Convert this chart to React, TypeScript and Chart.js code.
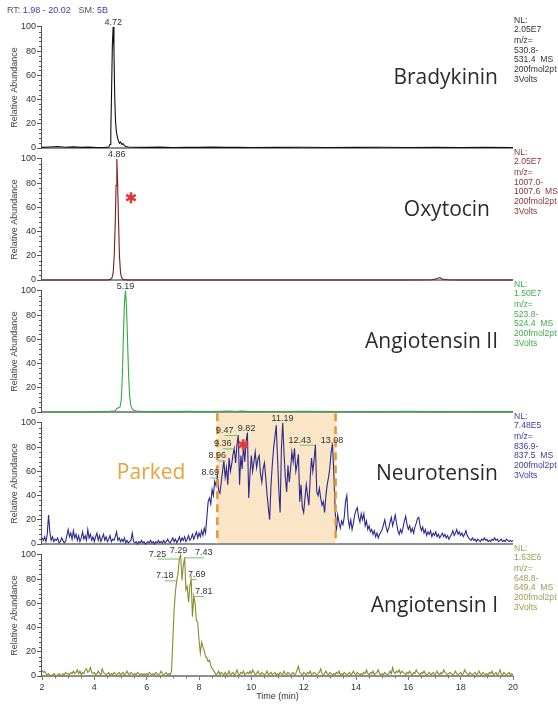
import React, { useEffect, useRef } from "react";
import { Chart, registerables } from "chart.js";

Chart.register(...registerables);

// ---------------- DATA ----------------
const xTickValues = [2, 4, 6, 8, 10, 12, 14, 16, 18, 20];
const yTickValues = [0, 20, 40, 60, 80, 100];
const rtRangeText = "1.98 - 20.02";
const smoothingText = "5B";

const compoundNames = ["Bradykinin", "Oxytocin", "Angiotensin II", "Neurotensin", "Angiotensin I"];
const nlValues = ["2.05E7", "2.05E7", "1.50E7", "7.48E5", "1.63E6"];
const mzLow = ["530.8", "1007.0", "523.8", "836.9", "648.8"];
const mzHigh = ["531.4", "1007.6", "524.4", "837.5", "649.4"];
const sampleText = "200fmol2pt";
const voltText = "3Volts";

const bradykininTimes = [2.0, 2.3, 2.6, 2.9, 3.2, 3.5, 3.8, 4.1, 4.4, 4.55, 4.6, 4.63, 4.66, 4.69, 4.72, 4.75, 4.78, 4.81, 4.84, 4.88, 4.92, 4.96, 5.0, 5.05, 5.1, 5.15, 5.2, 5.3, 5.5, 6.0, 6.5, 7.0, 7.5, 8.0, 8.5, 9.0, 9.5, 10.0, 11.0, 12.0, 13.0, 14.0, 15.0, 16.0, 17.0, 18.0, 19.0, 20.0];
const bradykininValues = [0.5, 0.8, 1.2, 0.6, 0.9, 0.5, 0.7, 0.4, 0.5, 0.8, 3, 14, 48, 86, 100, 80, 42, 22, 14, 9, 6, 4, 5, 3, 3.5, 2, 1.2, 0.8, 0.6, 0.5, 0.7, 0.4, 0.6, 0.5, 0.7, 0.5, 0.6, 0.4, 0.5, 0.6, 0.4, 0.5, 0.6, 0.4, 0.5, 0.4, 0.5, 0.4];

const oxytocinTimes = [2.0, 3.0, 4.0, 4.5, 4.62, 4.68, 4.72, 4.76, 4.8, 4.83, 4.86, 4.89, 4.92, 4.96, 5.0, 5.04, 5.08, 5.14, 5.3, 6.0, 8.0, 10.0, 12.0, 14.0, 16.0, 16.9, 17.1, 17.2, 17.3, 17.5, 18.0, 20.0];
const oxytocinValues = [0, 0, 0, 0, 0.5, 2, 6, 20, 48, 78, 100, 80, 52, 20, 6, 2, 0.8, 0.3, 0, 0, 0, 0, 0, 0, 0, 0.2, 1.2, 2, 0.8, 0.2, 0, 0];

const angiotensin2Times = [2.0, 3.0, 4.0, 4.6, 4.8, 4.86, 4.92, 4.98, 5.03, 5.07, 5.11, 5.15, 5.19, 5.23, 5.27, 5.31, 5.35, 5.4, 5.45, 5.5, 5.6, 5.8, 6.5, 7.5, 8.5, 9.2, 9.4, 9.6, 10.0, 11.0, 12.0, 13.0, 14.0, 15.0, 16.0, 17.0, 18.0, 19.0, 20.0];
const angiotensin2Values = [0, 0, 0.2, 0.5, 1, 3, 3.5, 4, 10, 30, 62, 90, 100, 86, 58, 30, 13, 5, 2.5, 1.5, 0.8, 0.5, 0.3, 0.5, 0.4, 0.8, 0.4, 0.7, 0.3, 0.4, 0.5, 0.3, 0.4, 0.3, 0.5, 0.3, 0.4, 0.3, 0.3];

// sampled every 0.05 min from 2.00 to 20.00
const neurotensinStart = 2;
const neurotensinStep = 0.05;
const neurotensinValues = [
  5, 3, 6, 2, 8, 24, 10, 3, 6, 2, 4, 3, 5, 1, 2, 5, 3, 1, 2, 7,
  12, 6, 9, 4, 11, 5, 8, 3, 7, 2, 5, 10, 4, 7, 3, 12, 5, 8, 3, 6,
  2, 6, 9, 3, 7, 2, 5, 8, 3, 6, 2, 4, 7, 2, 4, 3, 6, 10, 3, 5,
  2, 4, 2, 5, 1, 3, 1, 2, 3, 9, 2, 1, 2, 0, 2, 1, 3, 1, 2, 0,
  1, 2, 1, 3, 1, 2, 0, 2, 1, 3, 1, 2, 1, 3, 1, 2, 4, 2, 1, 3,
  5, 2, 4, 1, 3, 6, 2, 5, 3, 6, 2, 4, 7, 3, 5, 8, 4, 7, 10, 5,
  9, 6, 11, 7, 13, 9, 22, 35, 38, 33, 45, 40, 52, 48, 57, 44, 42, 51, 60, 69,
  55, 63, 49, 71, 60, 66, 74, 79, 67, 82, 90, 49, 73, 62, 82, 68, 85, 92, 38, 58,
  73, 60, 68, 76, 63, 70, 73, 58, 51, 62, 67, 55, 41, 30, 20, 48, 65, 79, 88, 98,
  72, 45, 26, 79, 100, 75, 55, 43, 65, 51, 62, 76, 68, 79, 60, 66, 74, 35, 49, 30,
  26, 38, 49, 40, 32, 55, 71, 60, 70, 82, 43, 40, 46, 38, 32, 35, 26, 40, 49, 55,
  63, 76, 83, 60, 30, 10, 24, 18, 13, 19, 16, 22, 35, 40, 21, 14, 20, 12, 17, 24,
  28, 30, 22, 18, 25, 20, 25, 15, 19, 12, 15, 10, 12, 8, 11, 6, 9, 5, 8, 10,
  12, 16, 20, 14, 10, 13, 18, 22, 15, 19, 24, 17, 11, 8, 12, 9, 14, 19, 23, 16,
  12, 15, 10, 13, 9, 14, 17, 21, 22, 15, 11, 14, 9, 12, 7, 10, 8, 11, 6, 9,
  7, 10, 6, 8, 5, 7, 9, 6, 8, 5, 7, 4, 6, 8, 11, 7, 9, 12, 8, 10,
  7, 9, 6, 8, 11, 7, 5, 4, 3, 5, 3, 4, 2, 4, 3, 2, 4, 3, 5, 3,
  4, 2, 3, 2, 4, 3, 5, 3, 4, 2, 3, 4, 2, 3, 2, 4, 3, 2, 3, 2,
  3,
];

// sampled every 0.05 min from 2.00 to 20.00
const angiotensin1Start = 2;
const angiotensin1Step = 0.05;
const angiotensin1Values = [
  5, 3, 4, 2, 1, 2, 1, 0, 1, 2, 1, 0, 1, 2, 1, 0, 2, 1, 3, 2,
  2, 1, 3, 2, 4, 2, 3, 5, 2, 4, 1, 3, 2, 5, 6, 3, 4, 7, 3, 2,
  3, 1, 2, 4, 2, 1, 6, 3, 2, 1, 2, 3, 1, 2, 1, 3, 2, 1, 2, 3,
  1, 2, 3, 1, 2, 4, 2, 1, 3, 2, 1, 2, 1, 3, 2, 1, 2, 1, 2, 1,
  2, 1, 3, 2, 1, 2, 1, 3, 2, 1, 2, 4, 2, 1, 2, 3, 1, 2, 1, 4,
  30, 55, 70, 79, 85, 97, 100, 79, 91, 98, 71, 74, 61, 74, 80, 49, 66, 60, 46, 44,
  30, 19, 28, 24, 21, 16, 15, 12, 13, 9, 6, 5, 3, 1, 2, 4, 1, 3, 2, 1,
  3, 1, 2, 4, 1, 2, 3, 1, 2, 5, 2, 1, 3, 2, 4, 1, 2, 3, 2, 4,
  2, 5, 3, 1, 2, 4, 2, 1, 3, 2, 1, 2, 4, 1, 2, 3, 1, 2, 3, 1,
  2, 1, 3, 2, 1, 4, 2, 1, 3, 2, 1, 2, 3, 1, 2, 5, 8, 3, 2, 1,
  3, 2, 1, 3, 2, 4, 1, 2, 3, 2, 1, 2, 3, 6, 2, 1, 2, 4, 2, 1,
  3, 2, 1, 2, 1, 3, 2, 4, 1, 2, 1, 3, 2, 1, 2, 3, 1, 2, 4, 2,
  1, 3, 2, 1, 2, 1, 3, 2, 5, 2, 1, 3, 2, 4, 1, 2, 3, 5, 2, 1,
  2, 1, 3, 2, 1, 2, 4, 2, 7, 3, 2, 4, 3, 5, 2, 4, 3, 2, 1, 3,
  2, 4, 2, 1, 3, 2, 5, 3, 2, 1, 3, 2, 4, 2, 1, 2, 3, 1, 2, 3,
  1, 2, 4, 2, 1, 3, 2, 5, 3, 2, 1, 2, 3, 2, 1, 2, 4, 2, 1, 2,
  3, 1, 2, 5, 3, 2, 1, 3, 2, 1, 2, 3, 1, 2, 4, 2, 1, 3, 2, 1,
  2, 1, 3, 2, 4, 1, 2, 3, 1, 2, 5, 2, 1, 3, 2, 1, 2, 3, 1, 2,
  1,
];

// peak labels (retention time, relative abundance)
const bradykininLabelTimes = [4.72];
const bradykininLabelValues = [100];
const oxytocinLabelTimes = [4.86];
const oxytocinLabelValues = [100];
const angiotensin2LabelTimes = [5.19];
const angiotensin2LabelValues = [100];
const neurotensinLabelTimes = [8.69, 8.96, 9.36, 9.47, 9.82, 11.19, 12.43, 13.08];
const neurotensinLabelValues = [55, 69, 79, 90, 92, 100, 82, 82];
const angiotensin1LabelTimes = [7.18, 7.25, 7.29, 7.43, 7.69, 7.81];
const angiotensin1LabelValues = [79, 97, 100, 98, 80, 66];

// parked window (min)
const parkedStart = 8.7;
const parkedEnd = 13.22;

// ---------------- LAYOUT / STYLE ----------------
const FONT = '"Liberation Sans", Arial, Helvetica, sans-serif';
const NAME_FONT = '"Open Sans", "Noto Sans", sans-serif';
const W = 558;
const PANEL_STEP = 132;
const PAD_TOP = 16;
const Y_MAX = 109;

type Mode = "top" | "left" | "right";
interface LabelPlace { mode: Mode; dx: number; }

const pairs = (ts: number[], vs: number[]) => ts.map((t, i) => ({ x: t, y: vs[i] }));
const sampled = (start: number, step: number, vs: number[]) =>
  vs.map((v, i) => ({ x: Math.round((start + i * step) * 1000) / 1000, y: v }));

interface PanelDef {
  points: { x: number; y: number }[];
  lineColor: string;
  infoColor: string;
  nameRight: number;
  labelTimes: number[];
  labelValues: number[];
  labelPlaces: LabelPlace[];
  asterisk?: { t: number; v: number };
  parked?: boolean;
}

const panels: PanelDef[] = [
  {
    points: pairs(bradykininTimes, bradykininValues),
    lineColor: "#111111",
    infoColor: "#333333",
    nameRight: 498,
    labelTimes: bradykininLabelTimes,
    labelValues: bradykininLabelValues,
    labelPlaces: [{ mode: "top", dx: 0 }],
  },
  {
    points: pairs(oxytocinTimes, oxytocinValues),
    lineColor: "#7a1c1c",
    infoColor: "#8b3535",
    nameRight: 490,
    labelTimes: oxytocinLabelTimes,
    labelValues: oxytocinLabelValues,
    labelPlaces: [{ mode: "top", dx: 0 }],
    asterisk: { t: 5.4, v: 68 },
  },
  {
    points: pairs(angiotensin2Times, angiotensin2Values),
    lineColor: "#35a845",
    infoColor: "#3fae4f",
    nameRight: 498,
    labelTimes: angiotensin2LabelTimes,
    labelValues: angiotensin2LabelValues,
    labelPlaces: [{ mode: "top", dx: 0 }],
  },
  {
    points: sampled(neurotensinStart, neurotensinStep, neurotensinValues),
    lineColor: "#2a2a8e",
    infoColor: "#3c3ca0",
    nameRight: 498,
    labelTimes: neurotensinLabelTimes,
    labelValues: neurotensinLabelValues,
    labelPlaces: [
      { mode: "left", dx: 2 },
      { mode: "left", dx: 2 },
      { mode: "left", dx: -3 },
      { mode: "left", dx: -4 },
      { mode: "top", dx: 0 },
      { mode: "top", dx: 0 },
      { mode: "left", dx: -4 },
      { mode: "top", dx: 0 },
    ],
    asterisk: { t: 9.69, v: 82 },
    parked: true,
  },
  {
    points: sampled(angiotensin1Start, angiotensin1Step, angiotensin1Values),
    lineColor: "#8a8a2e",
    infoColor: "#9c9c55",
    nameRight: 498,
    labelTimes: angiotensin1LabelTimes,
    labelValues: angiotensin1LabelValues,
    labelPlaces: [
      { mode: "left", dx: -4 },
      { mode: "left", dx: -13 },
      { mode: "top", dx: -2 },
      { mode: "right", dx: 11 },
      { mode: "right", dx: -3 },
      { mode: "right", dx: 1 },
    ],
  },
];

const canvasHeight = (i: number) => PAD_TOP + PANEL_STEP + (i === panels.length - 1 ? 28 : 8);

function makePlugin(p: PanelDef, idx: number) {
  const isFirst = idx === 0;
  const isLast = idx === panels.length - 1;
  return {
    id: "decor" + idx,
    beforeDatasetsDraw(chart: any) {
      const { ctx, chartArea } = chart;
      const x = chart.scales.x;
      const y = chart.scales.y;
      ctx.save();
      if (p.parked) {
        const x1 = x.getPixelForValue(parkedStart);
        const x2 = x.getPixelForValue(parkedEnd);
        const yTop = y.getPixelForValue(108);
        const yBot = y.getPixelForValue(0);
        ctx.fillStyle = "#fbe5c7";
        ctx.fillRect(x1, yTop, x2 - x1, yBot - yTop);
      }
      // baseline
      const y0 = y.getPixelForValue(0);
      ctx.strokeStyle = "#8e8e8e";
      ctx.lineWidth = 2;
      ctx.beginPath();
      ctx.moveTo(chartArea.left, y0);
      ctx.lineTo(chartArea.right, y0);
      ctx.stroke();
      ctx.restore();
    },
    afterDraw(chart: any) {
      const { ctx, chartArea } = chart;
      const x = chart.scales.x;
      const y = chart.scales.y;
      const y0 = y.getPixelForValue(0);
      const y100 = y.getPixelForValue(100);
      ctx.save();

      // parked dashed borders
      if (p.parked) {
        const yTop = y.getPixelForValue(108);
        ctx.strokeStyle = "#e39a2d";
        ctx.lineWidth = 2.5;
        ctx.setLineDash([8, 5]);
        [parkedStart, parkedEnd].forEach((t) => {
          const px = x.getPixelForValue(t);
          ctx.beginPath();
          ctx.moveTo(px, yTop);
          ctx.lineTo(px, y0);
          ctx.stroke();
        });
        ctx.setLineDash([]);
        ctx.fillStyle = "#e9a23c";
        ctx.font = `21px ${NAME_FONT}`;
        ctx.textAlign = "center";
        ctx.textBaseline = "middle";
        ctx.fillText("Parked", x.getPixelForValue(6.17), y.getPixelForValue(59));
      }

      // y axis line + minor ticks
      const ax = chartArea.left - 0.5;
      ctx.strokeStyle = "#555";
      ctx.lineWidth = 1;
      ctx.beginPath();
      ctx.moveTo(ax, y100);
      ctx.lineTo(ax, y0);
      for (let v = 0; v <= 100; v += 4) {
        if (v % 20 === 0) continue;
        const py = Math.round(y.getPixelForValue(v)) + 0.5;
        ctx.moveTo(chartArea.left - 3, py);
        ctx.lineTo(chartArea.left, py);
      }
      ctx.stroke();

      // y title
      ctx.save();
      ctx.translate(15, (y0 + y100) / 2);
      ctx.rotate(-Math.PI / 2);
      ctx.fillStyle = "#444";
      ctx.font = `9px ${FONT}`;
      ctx.textAlign = "center";
      ctx.textBaseline = "middle";
      ctx.fillText("Relative Abundance", 0, 0);
      ctx.restore();

      // info text on the right
      const info = ["NL:", nlValues[idx], "m/z=", mzLow[idx] + "-", mzHigh[idx] + "  MS", sampleText, voltText];
      const offs = [-6.5, 3, 13.5, 23.5, 33, 43, 52.5];
      ctx.fillStyle = p.infoColor;
      ctx.font = `8.6px ${FONT}`;
      ctx.textAlign = "left";
      ctx.textBaseline = "middle";
      info.forEach((s, i) => ctx.fillText(s, 514, y100 + offs[i]));

      // compound name
      ctx.fillStyle = "#2b2b2b";
      ctx.font = `21px ${NAME_FONT}`;
      ctx.textAlign = "right";
      ctx.textBaseline = "middle";
      ctx.fillText(compoundNames[idx], p.nameRight, y.getPixelForValue(58));

      // peak labels
      ctx.font = `9px ${FONT}`;
      ctx.textBaseline = "alphabetic";
      p.labelTimes.forEach((t, i) => {
        const place = p.labelPlaces[i];
        const px = x.getPixelForValue(t);
        const py = y.getPixelForValue(p.labelValues[i]);
        const txt = t.toFixed(2);
        const w = ctx.measureText(txt).width;
        ctx.strokeStyle = "#72c072";
        ctx.lineWidth = 1;
        if (place.mode === "top") {
          ctx.textAlign = "center";
          ctx.fillStyle = "#333";
          ctx.fillText(txt, px + place.dx, py - 2);
        } else if (place.mode === "left") {
          const right = px + place.dx;
          ctx.beginPath();
          ctx.moveTo(right - w / 2, py + 0.5);
          ctx.lineTo(px, py + 0.5);
          ctx.stroke();
          ctx.textAlign = "right";
          ctx.fillStyle = "#333";
          ctx.fillText(txt, right, py - 2);
        } else {
          const left = px + place.dx;
          ctx.beginPath();
          ctx.moveTo(px, py + 0.5);
          ctx.lineTo(left + w / 2, py + 0.5);
          ctx.stroke();
          ctx.textAlign = "left";
          ctx.fillStyle = "#333";
          ctx.fillText(txt, left, py - 2);
        }
      });

      // asterisk
      if (p.asterisk) {
        const cx = x.getPixelForValue(p.asterisk.t);
        const cy = y.getPixelForValue(p.asterisk.v);
        const r = 5.5;
        ctx.strokeStyle = "#e0383a";
        ctx.lineWidth = 2.6;
        ctx.lineCap = "butt";
        ctx.beginPath();
        for (let k = 0; k < 3; k++) {
          const a = Math.PI / 2 + (k * Math.PI) / 3;
          ctx.moveTo(cx + r * Math.cos(a), cy + r * Math.sin(a));
          ctx.lineTo(cx - r * Math.cos(a), cy - r * Math.sin(a));
        }
        ctx.stroke();
      }

      // header
      if (isFirst) {
        ctx.font = `9px ${FONT}`;
        ctx.textAlign = "left";
        ctx.textBaseline = "middle";
        const parts: [string, string][] = [
          ["RT: ", "#555"],
          [rtRangeText, "#3d3da8"],
          ["   SM: ", "#555"],
          [smoothingText, "#3d3da8"],
        ];
        let cx = 7;
        parts.forEach(([s, c]) => {
          ctx.fillStyle = c;
          ctx.fillText(s, cx, 11);
          cx += ctx.measureText(s).width;
        });
      }

      // bottom axis extras
      if (isLast) {
        ctx.strokeStyle = "#777";
        ctx.lineWidth = 1;
        ctx.beginPath();
        for (let t = 2; t <= 20.001; t += 0.5) {
          if (Math.abs(t / 2 - Math.round(t / 2)) < 1e-6) continue;
          const px = Math.round(x.getPixelForValue(t)) + 0.5;
          ctx.moveTo(px, y0);
          ctx.lineTo(px, y0 + 2.5);
        }
        ctx.stroke();
        ctx.fillStyle = "#333";
        ctx.font = `9px ${FONT}`;
        ctx.textAlign = "center";
        ctx.textBaseline = "middle";
        ctx.fillText("Time (min)", (chartArea.left + chartArea.right) / 2, chartArea.bottom + 21);
      }
      ctx.restore();
    },
  };
}

export default function App() {
  const refs = useRef<(HTMLCanvasElement | null)[]>([]);

  useEffect(() => {
    const charts: Chart[] = [];
    panels.forEach((p, i) => {
      const canvas = refs.current[i];
      if (!canvas) return;
      const isLast = i === panels.length - 1;
      const chart = new Chart(canvas, {
        type: "line",
        data: {
          datasets: [
            {
              data: p.points,
              borderColor: p.lineColor,
              borderWidth: 1.1,
              pointRadius: 0,
              tension: 0,
              fill: false,
              clip: 4,
            } as any,
          ],
        },
        options: {
          animation: false,
          responsive: false,
          maintainAspectRatio: false,
          devicePixelRatio: 1,
          events: [],
          layout: { padding: { left: 0, right: 45, top: PAD_TOP, bottom: isLast ? 0 : 8 } },
          plugins: {
            legend: { display: false },
            tooltip: { enabled: false },
            title: { display: false },
          },
          scales: {
            x: {
              type: "linear",
              min: 2,
              max: 20,
              display: isLast,
              afterBuildTicks: (s: any) => {
                s.ticks = xTickValues.map((v) => ({ value: v }));
              },
              afterFit: (s: any) => {
                s.height = isLast ? 28 : 0;
              },
              ticks: {
                font: { family: FONT, size: 9 },
                color: "#333",
                padding: 2,
                maxRotation: 0,
                autoSkip: false,
                callback: (v: any) => String(v),
              },
              grid: { display: true, drawOnChartArea: false, drawTicks: true, tickLength: 4, color: "#777" },
              border: { display: false },
            },
            y: {
              type: "linear",
              min: 0,
              max: Y_MAX,
              afterBuildTicks: (s: any) => {
                s.ticks = yTickValues.map((v) => ({ value: v }));
              },
              afterFit: (s: any) => {
                s.width = 42;
              },
              ticks: {
                font: { family: FONT, size: 9 },
                color: "#333",
                padding: 1,
                callback: (v: any) => String(v),
              },
              grid: { display: true, drawOnChartArea: false, drawTicks: true, tickLength: 5, color: "#555" },
              border: { display: false },
            },
          },
        } as any,
        plugins: [makePlugin(p, i)],
      });
      charts.push(chart);
    });
    return () => {
      charts.forEach((c) => c.destroy());
    };
  }, []);

  return (
    <div style={{ position: "absolute", left: 0, top: 0, width: W, height: 704, background: "#fff", overflow: "hidden" }}>
      {panels.map((_, i) => (
        <canvas
          key={i}
          ref={(el) => {
            refs.current[i] = el;
          }}
          width={W}
          height={canvasHeight(i)}
          style={{ position: "absolute", left: 0, top: i * PANEL_STEP, width: W, height: canvasHeight(i), display: "block" }}
        />
      ))}
    </div>
  );
}
